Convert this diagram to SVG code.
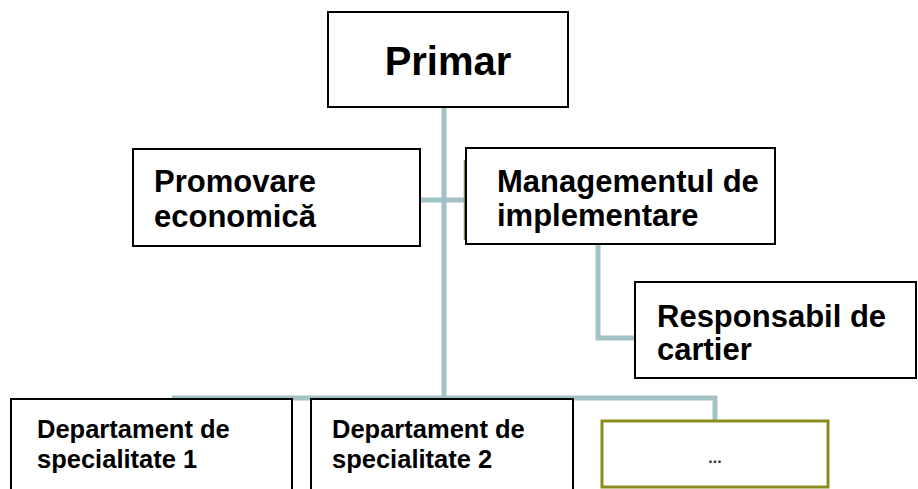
<svg xmlns="http://www.w3.org/2000/svg" width="918" height="489" viewBox="0 0 918 489">
<style>
.box{fill:#ffffff;stroke:#000000;stroke-width:2}
.olive{fill:#ffffff;stroke:#8c8c1e;stroke-width:3}
.conn{fill:none;stroke:#a3c2c6;stroke-width:5}
.t{font-family:"Liberation Sans",Arial,sans-serif;font-weight:bold;fill:#000000}
</style>
<rect width="918" height="489" fill="#ffffff"/>
<g id="connectors">
<line class="conn" x1="444" y1="107" x2="444" y2="399"/>
<line class="conn" x1="420" y1="200" x2="466" y2="200"/>
<polyline class="conn" points="598,244 598,338 635,338"/>
<polyline class="conn" points="172,398 715,398 715,421"/>
<line x1="464.5" y1="160" x2="464.5" y2="240" stroke="#8c8c1e" stroke-width="1.5"/>
</g>
<g id="primar">
<rect class="box" x="328" y="12" width="240" height="95"/>
<text class="t" x="448" y="75" font-size="40" text-anchor="middle">Primar</text>
</g>
<g id="promovare">
<rect class="box" x="133" y="149" width="287" height="97"/>
<text class="t" x="154" y="192" font-size="31">Promovare</text>
<text class="t" x="154" y="227" font-size="31">economică</text>
</g>
<g id="management">
<rect class="box" x="466" y="148" width="309" height="96"/>
<text class="t" x="497" y="192" font-size="31">Managementul de</text>
<text class="t" x="497" y="226" font-size="31">implementare</text>
</g>
<g id="responsabil">
<rect class="box" x="635" y="282" width="281" height="96"/>
<text class="t" x="657" y="327" font-size="31">Responsabil de</text>
<text class="t" x="657" y="360" font-size="31">cartier</text>
</g>
<g id="dept1">
<rect class="box" x="11" y="399" width="281" height="110"/>
<text class="t" x="37" y="438" font-size="25.5">Departament de</text>
<text class="t" x="37" y="468" font-size="25.5">specialitate 1</text>
</g>
<g id="dept2">
<rect class="box" x="311" y="399" width="262" height="110"/>
<text class="t" x="332" y="438" font-size="25.5">Departament de</text>
<text class="t" x="332" y="468" font-size="25.5">specialitate 2</text>
</g>
<g id="more">
<rect class="olive" x="602" y="421" width="226" height="66"/>
<text class="t" x="715" y="463" font-size="16" text-anchor="middle" fill="#333333" style="fill:#333333">...</text>
</g>
</svg>
